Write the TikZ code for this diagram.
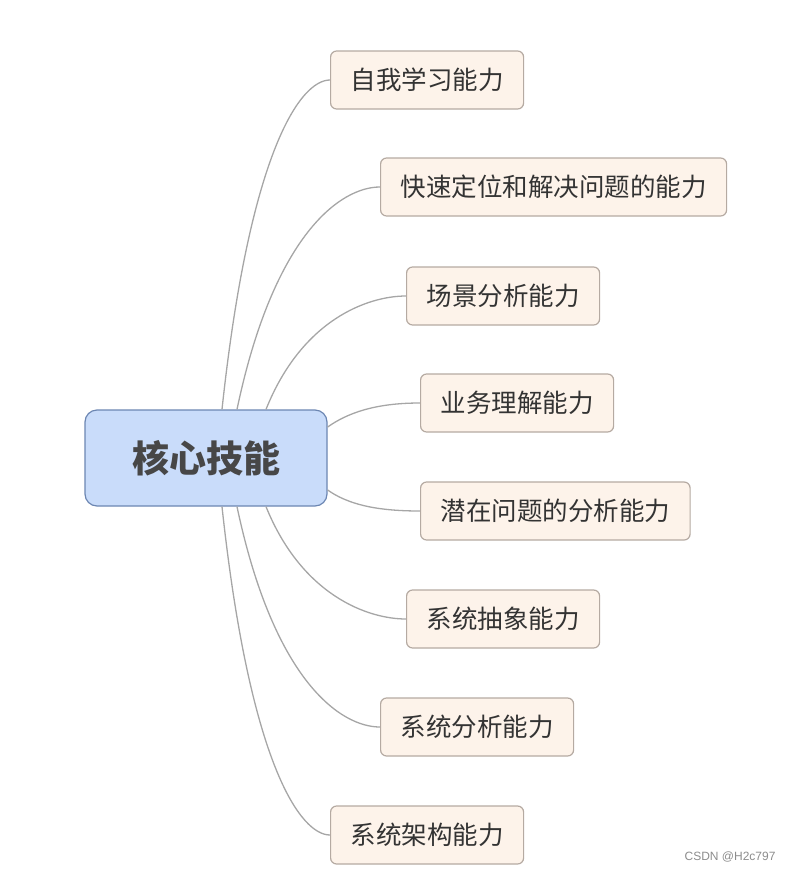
\documentclass[tikz,border=0pt]{standalone}
\usepackage{fontspec}
\newfontfamily\cjk{Noto Sans CJK SC}
\newfontfamily\marksans{Liberation Sans}
\usetikzlibrary{positioning}
\usepackage{xcolor}
\definecolor{corefill}{HTML}{C9DCFA}
\definecolor{coreline}{HTML}{6C86B2}
\definecolor{skillfill}{HTML}{FDF3EA}
\definecolor{skillline}{HTML}{B5AAA2}
\definecolor{branch}{HTML}{A6A6A6}
\definecolor{skilltext}{HTML}{333333}

\tikzset{
  core/.style={draw=coreline, line width=1.2pt, fill=corefill, rounded corners=12pt,
    minimum width=242pt, minimum height=96pt, font=\cjk\bfseries\fontsize{37}{40}\selectfont,
    text=black!72},
  skill/.style={draw=skillline, line width=1.2pt, fill=skillfill, rounded corners=6pt,
    anchor=west, minimum height=58pt, inner xsep=20pt,
    font=\cjk\fontsize{25.5}{28}\selectfont, text=skilltext},
  link/.style={branch, line width=1.3pt}
}

\begin{document}
\begin{tikzpicture}[x=1pt, y=-1pt]
\useasboundingbox (0,0) rectangle (792,871);

%core
\node [core] (core) at (206,458) {核心技能};

%skills
\node [skill] (s1) at (330,80) {自我学习能力};
\node [skill] (s2) at (380,187) {快速定位和解决问题的能力};
\node [skill] (s3) at (406,296) {场景分析能力};
\node [skill] (s4) at (420,403) {业务理解能力};
\node [skill] (s5) at (420,511) {潜在问题的分析能力};
\node [skill] (s6) at (406,619) {系统抽象能力};
\node [skill] (s7) at (380,727) {系统分析能力};
\node [skill] (s8) at (330,835) {系统架构能力};

%links
\draw [link] ([xshift=16pt]core.north) .. controls +(28,-261) and +(-29,0) .. (s1.west);
\draw [link] ([xshift=31pt]core.north) .. controls +(37,-176) and +(-39,0) .. (s2.west);
\draw [link] ([xshift=60pt]core.north) .. controls +(36,-90) and +(-38,0) .. (s3.west);
\draw [link] ([yshift=31pt]core.east) .. controls +(20,-14) and +(-45,0) .. (s4.west);
\draw [link] ([yshift=-32pt]core.east) .. controls +(20,14) and +(-45,0) .. (s5.west);
\draw [link] ([xshift=60pt]core.south) .. controls +(36,89) and +(-38,0) .. (s6.west);
\draw [link] ([xshift=31pt]core.south) .. controls +(37,175) and +(-39,0) .. (s7.west);
\draw [link] ([xshift=16pt]core.south) .. controls +(28,260) and +(-29,0) .. (s8.west);

%watermark
\node [anchor=east, text=black!45, font=\marksans\fontsize{12}{14}\selectfont] (mark) at (779,857) {CSDN @H2c797};

\end{tikzpicture}
\end{document}
